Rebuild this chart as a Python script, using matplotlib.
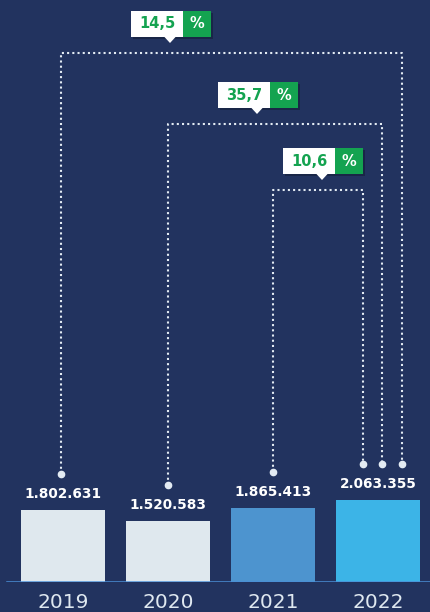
import matplotlib
matplotlib.use('Agg')
import matplotlib.pyplot as plt
from matplotlib.patches import Rectangle, Polygon

# data
years = ['2019', '2020', '2021', '2022']
values = [1802631, 1520583, 1865413, 2063355]
value_labels = ['1.802.631', '1.520.583', '1.865.413', '2.063.355']
growth_labels = ['14,5', '35,7', '10,6']   # 2019, 2020, 2021 -> 2022

bg = '#22335f'
bar_colors = ['#dfe8ee', '#dfe8ee', '#4d94cf', '#3cb4e7']
green = '#14a350'
dot_col = '#e3ebf3'

W, H = 430, 612
fig = plt.figure(figsize=(W / 100, H / 100), dpi=100)
fig.patch.set_facecolor(bg)

# main bar axes, baseline 30px above bottom
ax = fig.add_axes([0, 30 / H, 1, (H - 30) / H])
ax.set_facecolor('none')
x = list(range(len(years)))
ax.bar(x, values, width=0.8, color=bar_colors, zorder=2)
ax.set_xlim(-0.6, 3.495)
ax.set_ylim(0, 14.6e6)
ax.axis('off')
ax.axhline(0, xmin=7 / W, xmax=1, color='#4a90d8', lw=1.8, zorder=3)

for i in x:
    ax.annotate(value_labels[i], (i, values[i]), xytext=(0, 16), textcoords='offset pixels',
                ha='center', va='center', color='white', fontsize=9.8, fontweight='bold')
    ax.annotate(years[i], (i, 0), xytext=(0, -20), textcoords='offset pixels',
                ha='center', va='center', color='#dfe8f0', fontsize=14.5)

# overlay in pixel coordinates (origin bottom-left)
ov = fig.add_axes([0, 0, 1, 1])
ov.set_xlim(0, W)
ov.set_ylim(0, H)
ov.axis('off')
ov.patch.set_alpha(0)

def top_px(i):
    return ax.transData.transform((i, values[i]))

start_dx = [-2, 0, 0]
end_dx = [24, 4, -15]
levels = [53, 124, 190]          # px from top
badge_left = [131, 218, 283]

end_x, end_y = top_px(3)
end_y += 36
for k in range(3):
    sx, sy = top_px(k)
    sx += start_dx[k]
    sy += 36
    ly = H - levels[k]
    ex = end_x + end_dx[k]
    ov.plot([sx, sx, ex, ex], [sy, ly, ly, end_y], color=dot_col, lw=1.5,
            linestyle=(0, (1, 1.5)), dash_capstyle='butt', zorder=3)
    ov.plot([sx, ex], [sy, end_y], 'o', color=dot_col, ms=4.5, zorder=4)

    # badge
    bl = badge_left[k]
    btop = H - (levels[k] - 42)
    bbot = btop - 26
    ov.add_patch(Rectangle((bl + 2, bbot - 2), 80, 26, color='black', alpha=0.25, lw=0, zorder=4))
    ov.add_patch(Rectangle((bl, bbot), 52, 26, color='white', lw=0, zorder=5))
    ov.add_patch(Rectangle((bl + 52, bbot), 28, 26, color=green, lw=0, zorder=5))
    px = bl + 39
    ov.add_patch(Polygon([(px - 6, bbot + 0.5), (px + 6, bbot + 0.5), (px, bbot - 6)],
                         closed=True, color='white', lw=0, zorder=5))
    ov.text(bl + 26, bbot + 13, growth_labels[k], ha='center', va='center',
            color=green, fontsize=10.5, fontweight='bold', zorder=6)
    ov.text(bl + 66, bbot + 13, '%', ha='center', va='center',
            color='white', fontsize=10.5, fontweight='bold', zorder=6)

fig.savefig('out.png', dpi=100, facecolor=bg)
